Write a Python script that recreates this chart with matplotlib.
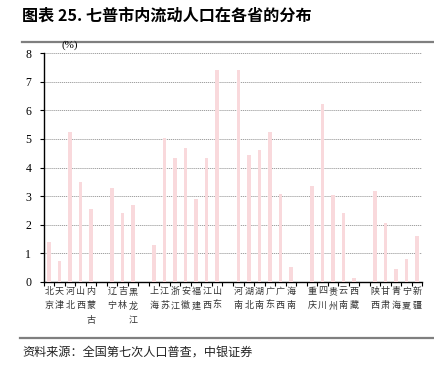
import matplotlib as mpl

mpl.use("Agg")

import matplotlib.pyplot as plt
import matplotlib.transforms as mtransforms

# provinces grouped by region; None marks the blank slot between groups
PROVINCES = [
    "北京", "天津", "河北", "山西", "内蒙古", None,
    "辽宁", "吉林", "黑龙江", None,
    "上海", "江苏", "浙江", "安徽", "福建", "江西", "山东", None,
    "河南", "湖北", "湖南", "广东", "广西", "海南", None,
    "重庆", "四川", "贵州", "云南", "西藏", None,
    "陕西", "甘肃", "青海", "宁夏", "新疆",
]
SHARES = [
    1.40, 0.74, 5.26, 3.51, 2.54, None,
    3.29, 2.39, 2.67, None,
    1.29, 5.05, 4.34, 4.67, 2.90, 4.35, 7.40, None,
    7.43, 4.44, 4.63, 5.23, 3.06, 0.53, None,
    3.36, 6.23, 3.03, 2.39, 0.13, None,
    3.18, 2.06, 0.44, 0.80, 1.60,
]
Y_TICKS = [0, 1, 2, 3, 4, 5, 6, 7, 8]

TITLE = "图表 25. 七普市内流动人口在各省的分布"
SOURCE = "资料来源：全国第七次人口普查，中银证券"

CJK = ["Noto Sans CJK SC", "DejaVu Sans"]
SERIF = ["Liberation Serif", "DejaVu Serif"]
BAR_COLOR = "#f9d9dc"

plt.rcParams["font.family"] = CJK

fig = plt.figure(figsize=(4.34, 3.72), dpi=100, facecolor="white")
ax = fig.add_axes([0.1007, 0.2427, 0.8723, 0.614])

xs = [i for i, v in enumerate(SHARES) if v is not None]
vals = [v for v in SHARES if v is not None]
ax.bar(xs, vals, width=0.33, color=BAR_COLOR, zorder=3)

ax.set_xlim(-0.5, len(SHARES) - 0.5)
ax.set_ylim(0, 8)
ax.set_yticks(Y_TICKS)
ax.set_yticklabels([str(t) for t in Y_TICKS], family=SERIF, fontsize=8.5)
ax.yaxis.grid(True, color="#a0a0a0", linestyle=(0, (1.2, 0.8)), linewidth=0.7, zorder=1)
ax.tick_params(axis="y", length=3, width=0.8, pad=6, color="black")

ax.set_xticks([i - 0.5 for i in range(len(SHARES) + 1)])
ax.set_xticklabels([])
ax.tick_params(axis="x", length=3, width=0.8, direction="out", color="black")

for side in ("top", "right"):
    ax.spines[side].set_visible(False)
for side in ("left", "bottom"):
    ax.spines[side].set_linewidth(1.0)
    ax.spines[side].set_color("black")

# vertical (stacked) province names under each bar
trans = mtransforms.blended_transform_factory(ax.transData, fig.transFigure)
for i, name in enumerate(PROVINCES):
    if name is None:
        continue
    ax.text(i, 1 - 287 / 372, "\n".join(name), transform=trans, ha="center", va="top",
            fontsize=6.5, linespacing=1.75, color="#333333", family=CJK)

fig.text(62 / 434, 1 - 45 / 372, "(%)", ha="left", va="center", fontsize=8, family=SERIF)

fig.text(22 / 434, 1 - 16 / 372, TITLE, ha="left", va="center", fontsize=11.6,
         fontweight="bold", family=CJK)
fig.add_artist(plt.Line2D([22 / 434, 1], [1 - 42 / 372] * 2, transform=fig.transFigure,
                          color="#7f7f7f", linewidth=1.6))
fig.add_artist(plt.Line2D([20 / 434, 1], [1 - 338 / 372] * 2, transform=fig.transFigure,
                          color="#7f7f7f", linewidth=1.6))
fig.text(22 / 434, 1 - 352 / 372, SOURCE, ha="left", va="center", fontsize=8.7,
         style="italic", color="#222222", family=CJK)

fig.savefig("out.png", dpi=100, facecolor="white")
